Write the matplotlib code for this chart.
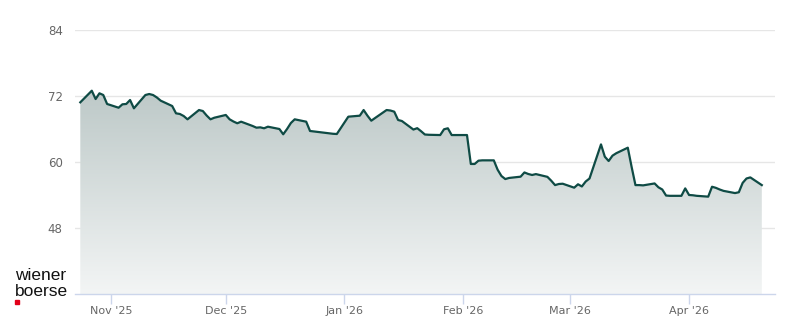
import numpy as np
import pandas as pd
import matplotlib
matplotlib.use("Agg")
import matplotlib.pyplot as plt
import matplotlib.dates as mdates
from matplotlib.colors import LinearSegmentedColormap
from matplotlib.patches import Rectangle

# trading days shown (year-end closing days left out)
holidays = ["2025-12-24", "2025-12-25", "2025-12-26", "2025-12-31",
            "2026-01-01"]
dates = pd.bdate_range("2025-10-24", "2026-04-20")
dates = dates[~dates.isin(pd.to_datetime(holidays))]

# closing prices
prices = [
    70.85, 72.96, 71.45, 72.49, 72.18, 70.55,                   # Oct
    69.87, 70.49, 70.55, 71.27, 69.76,
    72.18, 72.36, 72.18, 71.73, 71.15,
    70.18, 68.85, 68.73, 68.36, 67.76,
    69.45, 69.27, 68.45, 67.76, 68.05,                          # Nov
    68.55, 67.76, 67.36, 67.04, 67.33,
    66.55, 66.24, 66.30, 66.13, 66.42,
    66.00, 65.04, 66.00, 67.09, 67.76,
    67.33, 65.64,
    65.13, 65.09,                                               # Dec
    68.24,
    68.42, 69.45, 68.42, 67.51, 68.00,
    69.45, 69.36, 69.15, 67.64, 67.45,
    65.90, 66.15, 65.60, 65.00, 64.95,
    64.90, 65.95, 66.13, 64.90, 64.90,                          # Jan
    64.90, 59.64, 59.64, 60.24, 60.30,
    60.30, 58.60, 57.45, 56.90, 57.10,
    57.33, 58.10, 57.82, 57.64, 57.80,
    57.30, 56.60, 55.80, 56.00, 56.05,                          # Feb
    55.33, 55.95, 55.55, 56.45, 57.00,
    63.20, 60.96, 60.18, 61.15, 61.60,
    62.60, 59.10, 55.80, 55.80, 55.75,
    56.10, 55.40, 55.00, 53.90, 53.85,
    53.85, 55.20,                                               # Mar
    54.00, 53.95, 53.85,
    53.70, 55.50, 55.30, 55.00, 54.75,
    54.35, 54.50, 56.20, 57.00, 57.20,
    55.80,                                                      # Apr
]

month_ticks = pd.to_datetime(["2025-11-01", "2025-12-01", "2026-01-01",
                              "2026-02-01", "2026-03-01", "2026-04-01"])
month_labels = ["Nov '25", "Dec '25", "Jan '26", "Feb '26", "Mar '26", "Apr '26"]
y_ticks = [48, 60, 72, 84]

line_col = "#0f4b45"
text_col = "#666666"

fig = plt.figure(figsize=(8, 3.24), dpi=100)
ax = fig.add_axes([0.094, 0.0926, 0.875, 0.8148])

x = mdates.date2num(dates)
y = np.array(prices)

ax.set_ylim(36, 84)
ax.set_xlim(mdates.date2num(pd.Timestamp("2025-10-22 16:00")),
            mdates.date2num(pd.Timestamp("2026-04-23 12:00")))

# gradient fill under the line
poly = ax.fill_between(x, y, 36, color="none", lw=0)
cmap = LinearSegmentedColormap.from_list("fade", ["#f3f5f5", "#bcc8c7"])
grad = np.linspace(0, 1, 256).reshape(-1, 1)
img = ax.imshow(grad, cmap=cmap, aspect="auto", origin="lower",
                extent=[x[0], x[-1], 36, 73.5], zorder=1)
path = poly.get_paths()[0]
img.set_clip_path(path, transform=ax.transData)

ax.plot(x, y, color=line_col, lw=1.6, zorder=3, solid_joinstyle="round")

ax.set_yticks(y_ticks)
ax.grid(axis="y", color="#e6e6e6", lw=1)
ax.set_axisbelow(True)
ax.tick_params(axis="y", length=0, pad=9, labelsize=8.5, labelcolor=text_col)

ax.set_xticks(mdates.date2num(month_ticks))
ax.set_xticklabels(month_labels)
ax.tick_params(axis="x", length=7.2, width=1, color="#ccd6eb", pad=1.5,
               labelsize=8, labelcolor=text_col)

for s in ["top", "right", "left"]:
    ax.spines[s].set_visible(False)
ax.spines["bottom"].set_color("#ccd6eb")
ax.spines["bottom"].set_linewidth(1)

# logo
logo_font = ["Liberation Sans", "DejaVu Sans"]
fig.text(15 / 800, 1 - 276 / 324, "wiener", fontsize=12.5, color="#111111",
         va="center", ha="left", family=logo_font)
fig.text(15 / 800, 1 - 291 / 324, "boerse", fontsize=12.5, color="#111111",
         va="center", ha="left", family=logo_font)
fig.patches.append(Rectangle((15 / 800, 1 - 304 / 324), 4 / 800, 4 / 324,
                             transform=fig.transFigure, color="#e2001a"))

fig.savefig("out.png", dpi=100)
